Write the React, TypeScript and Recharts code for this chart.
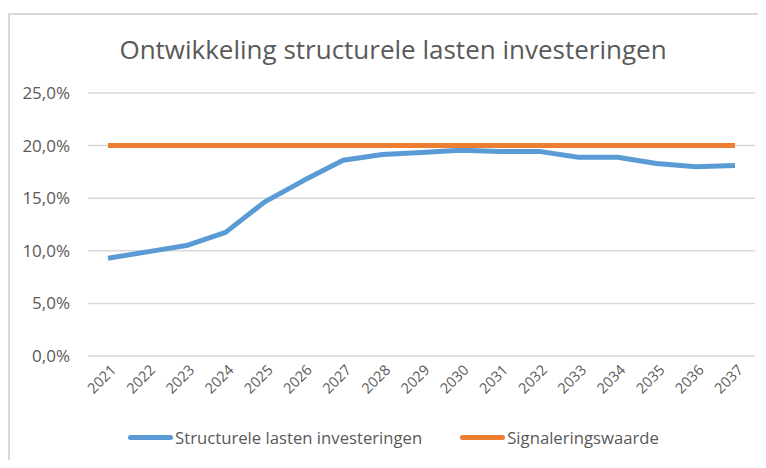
import { LineChart, Line, XAxis, YAxis, CartesianGrid, Legend } from 'recharts'

const years = ['2021', '2022', '2023', '2024', '2025', '2026', '2027', '2028', '2029', '2030', '2031', '2032', '2033', '2034', '2035', '2036', '2037']
const lasten = [9.3, 9.9, 10.5, 11.75, 14.65, 16.7, 18.6, 19.15, 19.35, 19.55, 19.45, 19.45, 18.9, 18.9, 18.3, 18.0, 18.1]
const signalering = [20, 20, 20, 20, 20, 20, 20, 20, 20, 20, 20, 20, 20, 20, 20, 20, 20]
const yTicks = [0, 5, 10, 15, 20, 25]

const data = years.map((y, i) => ({ year: y, lasten: lasten[i], signalering: signalering[i] }))

const TEXT = '#595959'
const FONT = '"Open Sans", sans-serif'
const BLUE = '#5B9BD5'
const ORANGE = '#ED7D31'

const fmt = (v: number) => v.toFixed(1).replace('.', ',') + '%'

function YearTick({ x, y, payload }: any) {
  return (
    <g transform={`translate(${x + 9},${y + 7})`}>
      <text transform="rotate(-45)" textAnchor="end" fill={TEXT} fontSize={14.5} fontFamily={FONT}>
        {payload.value}
      </text>
    </g>
  )
}

function LegendContent() {
  const item = (color: string, label: string, gap: number) => (
    <div style={{ display: 'flex', alignItems: 'center', marginRight: gap }}>
      <span style={{ display: 'inline-block', width: 45, height: 5, background: color, borderRadius: 3 }} />
      <span style={{ marginLeft: 2 }}>{label}</span>
    </div>
  )
  return (
    <div style={{ display: 'flex', justifyContent: 'center', fontFamily: FONT, fontSize: 16.7, color: TEXT, paddingLeft: 24 }}>
      {item(BLUE, 'Structurele lasten investeringen', 38)}
      {item(ORANGE, 'Signaleringswaarde', 0)}
    </div>
  )
}

export default function App() {
  return (
    <div style={{ position: 'relative', width: 766, height: 468, margin: -8, overflow: 'hidden', background: '#fff' }}>
      <div style={{ position: 'absolute', left: 8, top: 13, width: 820, height: 520, border: '2px solid #d9d9d9' }} />
      <div style={{ position: 'absolute', left: 0, top: 31, width: 786, textAlign: 'center', fontFamily: FONT, fontSize: 26, color: TEXT }}>
        Ontwikkeling structurele lasten investeringen
      </div>
      <div style={{ position: 'absolute', left: 0, top: 0 }}>
        <LineChart width={766} height={468} data={data} margin={{ top: 93, right: 11, bottom: 0, left: 8 }}>
          <CartesianGrid vertical={false} stroke="#d9d9d9" strokeWidth={1.5} />
          <XAxis dataKey="year" axisLine={false} tickLine={false} tick={<YearTick />} interval={0} height={70} padding={{ left: 20, right: 20 }} />
          <YAxis
            domain={[0, 25]}
            ticks={yTicks}
            tickFormatter={fmt}
            axisLine={false}
            tickLine={false}
            width={80}
            tick={{ fill: TEXT, fontSize: 17, fontFamily: FONT }}
            tickMargin={12}
          />
          <Legend verticalAlign="bottom" height={42} content={() => <LegendContent />} />
          <Line dataKey="lasten" stroke={BLUE} strokeWidth={5} dot={false} isAnimationActive={false} strokeLinejoin="round" />
          <Line dataKey="signalering" stroke={ORANGE} strokeWidth={5} dot={false} isAnimationActive={false} />
        </LineChart>
      </div>
    </div>
  )
}
